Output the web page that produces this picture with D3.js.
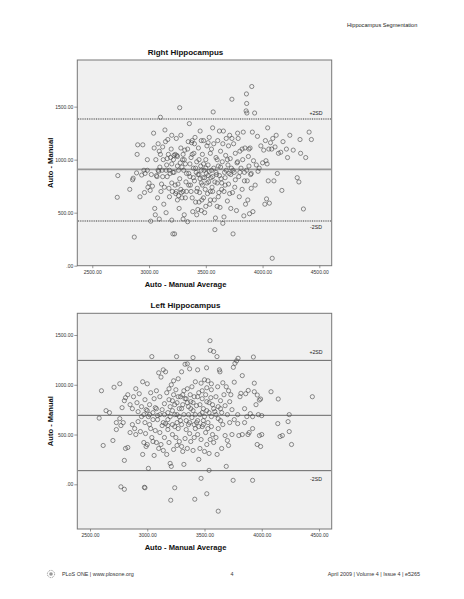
<!DOCTYPE html>
<html><head><meta charset="utf-8">
<script src="https://cdn.jsdelivr.net/npm/d3@7"></script>
<style>
html,body{margin:0;padding:0;background:#fff;}
svg text{font-family:"Liberation Sans",Arial,sans-serif;}
</style></head>
<body><svg id="c" width="464" height="599"></svg>
<script>
// ---------------- DATA ----------------
const chartTitles = ["Right Hippocampus", "Left Hippocampus"];
const xTicks = [2500, 3000, 3500, 4000, 4500];
const yTicksRight = [0, 500, 1000, 1500];
const yTicksLeft = [0, 500, 1000, 1500];
// mean, +2SD, -2SD
const limitsRight = [909, 1384, 422];
const limitsLeft = [693, 1245, 137];
const limitLabels = ["+2SD", "-2SD"];

// Right hippocampus: [average, difference]
const rightPoints = [
[2725,850],[2720,645],[2830,720],[2855,810],[2860,825],[2870,270],[2890,875],[2895,1050],[2900,1140],[2920,650],
[2935,855],[2945,1140],[2955,900],[2960,690],[2965,870],[2985,1000],[2990,740],[2985,900],[3000,780],[3010,710],
[3015,420],[3020,860],[3030,750],[3040,1250],[3045,1110],[3050,540],[3055,480],[3060,1000],[3070,840],[3065,850],
[3075,640],[3080,1150],[3085,890],[3090,1080],[3090,440],[3095,930],[3100,1400],[3100,1050],[3105,700],[3110,770],
[3115,900],[3120,1120],[3125,1000],[3130,580],[3135,740],[3140,1280],[3145,1170],[3150,500],[3150,900],[3155,950],
[3160,1010],[3165,1190],[3170,1050],[3175,730],[3180,650],[3185,870],[3195,1100],[3200,1230],[3200,430],[3205,700],
[3210,300],[3225,300],[3215,1000],[3220,880],[3230,1050],[3235,680],[3240,1200],[3245,1040],[3250,940],[3255,770],
[3260,660],[3265,540],[3270,1490],[3275,970],[3280,720],[3285,690],[3290,640],[3295,1000],[3300,440],[3305,900],
[3310,480],[3315,1090],[3320,960],[3325,790],[3330,700],[3340,415],[3345,1170],[3350,870],[3355,1340],[3360,840],
[3365,760],[3370,1020],[3375,1160],[3380,640],[3385,510],[3390,920],[3395,1060],[3400,800],[3405,1210],[3410,600],
[3415,880],[3420,980],[3425,730],[3430,530],[3435,1110],[3440,860],[3445,690],[3450,1270],[3455,940],[3460,780],
[3465,620],[3470,1050],[3475,830],[3480,1180],[3485,900],[3490,500],[3495,720],[3500,1000],[3505,870],[3510,1130],
[3515,680],[3520,950],[3525,790],[3530,1210],[3535,580],[3540,1060],[3545,830],[3550,900],[3555,740],[3560,1300],
[3565,1450],[3570,1150],[3575,620],[3580,340],[3585,450],[3590,1020],[3595,860],[3600,780],[3605,1180],[3610,940],
[3615,690],[3620,1270],[3625,550],[3630,1080],[3635,820],[3640,720],[3645,980],[3650,400],[3655,1270],[3660,460],
[3665,880],[3670,760],[3675,1040],[3680,1200],[3690,610],[3695,950],[3700,1130],[3705,870],[3710,1230],[3715,1010],
[3720,540],[3725,920],[3730,1570],[3735,690],[3740,300],[3745,1150],[3750,880],[3755,740],[3760,1060],[3770,520],
[3775,970],[3780,1250],[3785,1200],[3790,840],[3795,650],[3800,1080],[3810,920],[3820,720],[3825,1000],[3830,1260],
[3835,470],[3840,880],[3845,1110],[3850,580],[3855,1460],[3858,1620],[3860,1530],[3862,1440],[3865,800],[3870,620],
[3875,1030],[3880,940],[3885,490],[3890,1110],[3895,860],[3905,1690],[3900,730],[3910,1260],[3915,510],[3920,990],
[3930,1440],[3935,760],[3945,950],[3955,1220],[3960,890],[3970,920],[3985,1130],[4000,970],[4010,1090],[4020,580],
[4025,1180],[4030,990],[4035,630],[4040,960],[4045,1300],[4050,800],[4055,1100],[4060,590],[4070,1160],[4080,1100],
[4085,70],[4090,1200],[4100,800],[4110,1120],[4120,1230],[4130,870],[4140,1060],[4160,1070],[4170,710],[4180,1170],
[4210,1100],[4220,1020],[4240,1230],[4270,1090],[4305,830],[4320,790],[4330,1190],[4335,1060],[4360,535],[4380,1020],
[4410,1260],[4430,1190],
[3180,900],[3190,1020],[3200,960],[3210,880],[3220,1040],[3230,760],[3240,700],[3250,1030],[3260,900],[3270,820],
[3280,1110],[3290,930],[3300,700],[3310,1000],[3320,640],[3330,870],[3340,1100],[3350,760],[3360,960],[3370,700],
[3380,1050],[3390,830],[3400,1150],[3410,920],[3420,700],[3430,860],[3440,1000],[3450,820],[3460,900],[3470,760],
[3480,960],[3490,830],[3500,920],[3510,780],[3520,850],[3530,890],[3540,700],[3550,1100],[3560,840],[3570,920],
[3580,790],[3590,880],[3600,1000],[3610,650],[3620,850],[3630,930],[3640,780],[3650,1150],[3660,700],[3670,830],
[3680,900],[3690,1000],[3700,770],[3710,680],[3720,860],[3730,1200],[3740,900],[3760,810],[3780,980],[3800,880],
[3820,1100],[3840,800],[3860,900],[3880,1100],[3900,870],[3520,1160],[3460,1180],[3380,1180],[3300,1050],[3280,1230],
[3250,620],[3200,780],[3160,840],[3120,840],[3080,900],[3440,600],[3480,640],[3540,620],[3600,560],[3560,700],
[3500,560],[3420,480],[3460,520]
];

// Left hippocampus: [average, difference]
const leftPoints = [
[2770,-25],[2800,-50],[2975,-30],[2980,-35],[3205,-160],[3240,-35],[3415,-150],[3470,60],[3520,-95],[3620,-270],
[3750,40],[3920,40],[3540,140],
[2580,665],[2615,390],[2700,440],[2730,550],[2770,590],[2790,620],[2800,240],[2810,360],[2830,370],[2850,520],
[2870,600],[2890,560],[2900,500],[2920,630],[2940,530],[2960,300],[2970,420],[2985,510],[2990,380],[3000,400],
[3010,160],[3020,600],[3030,560],[3040,470],[3050,430],[3060,290],[3070,540],[3080,420],[3090,650],[3100,360],
[3110,520],[3120,400],[3130,590],[3140,340],[3150,470],[3160,610],[3170,300],[3180,550],[3190,420],[3200,210],
[3210,180],[3220,500],[3230,350],[3240,580],[3250,470],[3260,390],[3270,560],[3280,430],[3290,640],[3300,380],
[3310,330],[3320,200],[3330,460],[3340,550],[3350,360],[3360,600],[3370,510],[3380,430],[3390,670],[3400,340],
[3410,470],[3420,560],[3430,620],[3440,500],[3450,250],[3460,360],[3470,450],[3480,580],[3490,640],[3500,330],
[3510,520],[3520,400],[3530,620],[3540,310],[3550,450],[3560,580],[3570,500],[3580,420],[3600,470],[3610,300],
[3620,560],[3640,640],[3650,360],[3660,600],[3680,490],[3690,180],[3700,440],[3710,390],[3720,620],[3740,500],
[3760,650],[3790,610],[3800,490],[3830,500],[3850,620],[3880,500],[3890,520],[3920,560],[3960,400],[3980,490],
[3990,380],[4000,500],[4140,610],[4160,480],[4180,490],[4230,630],[4240,530],[4260,400],
[2600,940],[2710,975],[2760,1010],[2640,740],[2670,720],[2730,620],[2760,660],[2780,770],[2800,840],[2810,870],
[2830,900],[2850,800],[2870,760],[2880,880],[2900,960],[2910,820],[2920,730],[2930,910],[2950,780],[2960,1030],
[2970,700],[2980,850],[2990,750],[3000,1010],[3010,680],[3020,800],[3030,920],[3040,1283],[3050,720],[3060,860],
[3070,770],[3080,940],[3090,690],[3100,1120],[3110,880],[3120,1077],[3130,750],[3140,1150],[3150,810],[3160,1130],
[3170,920],[3180,720],[3190,850],[3200,780],[3210,1000],[3220,840],[3230,1040],[3240,700],[3250,950],[3256,1283],
[3260,820],[3270,1060],[3280,760],[3290,880],[3300,1130],[3310,800],[3320,940],[3330,1206],[3340,860],[3350,1210],
[3360,780],[3370,1160],[3375,900],[3380,830],[3390,980],[3400,1273],[3400,740],[3410,880],[3420,1030],[3430,790],
[3440,1150],[3450,920],[3460,700],[3470,1016],[3480,860],[3490,760],[3500,1050],[3510,900],[3518,1170],[3520,830],
[3530,1040],[3540,720],[3548,1443],[3550,1346],[3555,870],[3560,950],[3570,800],[3580,1333],[3590,730],[3600,880],
[3609,1283],[3615,980],[3620,780],[3630,1150],[3635,1130],[3640,840],[3650,720],[3660,1020],[3670,900],[3680,790],
[3690,980],[3700,700],[3710,940],[3720,830],[3730,900],[3740,750],[3752,1175],[3766,1215],[3780,1240],[3793,1266],
[3760,1026],[3790,700],[3810,880],[3818,914],[3830,1092],[3850,760],[3870,680],[3882,943],[3900,710],[3927,1279],
[3935,1016],[3935,930],[3950,800],[3961,897],[3979,847],[3990,857],[3970,700],[4000,690],[4081,930],[4144,857],
[4240,700],[4442,880],[3920,680],[3860,910],
[3150,700],[3180,650],[3200,680],[3220,740],[3240,800],[3260,700],[3280,680],[3300,760],[3320,700],[3340,640],
[3350,820],[3360,700],[3380,760],[3400,820],[3420,700],[3440,640],[3460,800],[3480,720],[3500,680],[3520,740],
[3540,820],[3560,680],[3580,760],[3600,700],[3620,660],[3640,760],[3300,600],[3260,620],[3220,600],[3180,590],
[3140,620],[3110,700],[3080,760],[3050,650],[3020,700],[3000,740],[2980,620],[2950,680],[3330,860],[3370,620],
[3410,600],[3450,580],[3490,600],[3530,560],[3350,960],[3310,900],[3270,880],[3230,900],[3190,960],[3440,880],
[3480,940],[3520,970],[3560,1010]
];

const headerText = "Hippocampus Segmentation";
const footerLeft = "PLoS ONE | www.plosone.org";
const footerMid = "4";
const footerRight = "April 2009 | Volume 4 | Issue 4 | e5265";
const xAxisTitle = "Auto - Manual Average";
const yAxisTitle = "Auto - Manual";

// ---------------- DRAW ----------------
const svg = d3.select("#c");
svg.append("rect").attr("width",464).attr("height",599).attr("fill","#fff");

svg.append("text").attr("x",347).attr("y",27).attr("font-size",5.6).attr("fill","#222").text(headerText);

const fmt = v => v === 0 ? ".00" : d3.format(".2f")(v);

function drawChart(cfg){
  const g = svg.append("g");
  const x = d3.scaleLinear().domain(cfg.xDomain).range([77.3, 331.7]);
  const y = d3.scaleLinear().domain(cfg.yDomain).range([cfg.bottom, cfg.top]);
  // title
  g.append("text").attr("x",185.5).attr("y",cfg.top-5).attr("text-anchor","middle")
    .attr("font-size",8).attr("font-weight","bold").attr("fill","#111").text(cfg.title);
  // background
  g.append("rect").attr("x",77.3).attr("y",cfg.top).attr("width",254.4).attr("height",cfg.bottom-cfg.top)
    .attr("fill","#f0f0f0").attr("stroke","#777").attr("stroke-width",1);
  // limit lines
  const [mean, up, lo] = cfg.limits;
  g.append("line").attr("x1",78).attr("x2",331).attr("y1",y(mean)).attr("y2",y(mean))
    .attr("stroke",cfg.meanColor).attr("stroke-width",cfg.meanWidth);
  [up, lo].forEach(v=>{
    g.append("line").attr("x1",78).attr("x2",331).attr("y1",y(v)).attr("y2",y(v))
      .attr("stroke",cfg.sdColor).attr("stroke-width",cfg.sdWidth)
      .attr("stroke-dasharray",cfg.sdDash);
  });
  g.append("text").attr("x",316).attr("y",y(up)-cfg.labOff+2).attr("text-anchor","middle").attr("font-size",5.2).attr("fill","#222").text(limitLabels[0]);
  g.append("text").attr("x",316).attr("y",y(lo)+cfg.labOff+2).attr("text-anchor","middle").attr("font-size",5.2).attr("fill","#222").text(limitLabels[1]);
  // points
  g.append("g").selectAll("circle").data(cfg.points).join("circle")
    .attr("cx",d=>x(d[0])).attr("cy",d=>y(d[1])).attr("r",2.1)
    .attr("fill","none").attr("stroke","#444").attr("stroke-width",0.6);
  // y axis
  const ya = g.append("g").attr("transform","translate(77.3,0)")
    .call(d3.axisLeft(y).tickValues(cfg.yTicks).tickFormat(fmt).tickSize(3).tickPadding(1));
  ya.select(".domain").remove();
  ya.selectAll("line").attr("stroke","#555").attr("stroke-width",0.6);
  ya.selectAll("text").attr("font-size",5).attr("fill","#333").attr("font-family","Liberation Sans, Arial, sans-serif");
  // x axis
  const xa = g.append("g").attr("transform",`translate(0,${cfg.bottom})`)
    .call(d3.axisBottom(x).tickValues(xTicks).tickFormat(fmt).tickSize(2.5).tickPadding(2));
  xa.select(".domain").remove();
  xa.selectAll("line").attr("stroke","#555").attr("stroke-width",0.6);
  xa.selectAll("text").attr("font-size",5).attr("fill","#333").attr("font-family","Liberation Sans, Arial, sans-serif");
  // axis titles
  g.append("text").attr("x",185.5).attr("y",cfg.bottom+21).attr("text-anchor","middle")
    .attr("font-size",7.6).attr("font-weight","bold").attr("fill","#111").text(xAxisTitle);
  g.append("text").attr("transform",`translate(52.5,${(cfg.top+cfg.bottom)/2}) rotate(-90)`).attr("text-anchor","middle")
    .attr("font-size",7.6).attr("font-weight","bold").attr("fill","#111").text(yAxisTitle);
}

drawChart({title:chartTitles[0], xDomain:[2368,4609], yDomain:[0,1940], top:60, bottom:265.7,
  limits:limitsRight, points:rightPoints, yTicks:yTicksRight,
  meanColor:"#999", meanWidth:1.8, sdColor:"#777", sdWidth:1.6, sdDash:"1,0.8", labOff:6});
drawChart({title:chartTitles[1], xDomain:[2389,4611], yDomain:[-449,1718], top:313.3, bottom:529,
  limits:limitsLeft, points:leftPoints, yTicks:yTicksLeft,
  meanColor:"#666", meanWidth:1, sdColor:"#666", sdWidth:1, sdDash:null, labOff:8});

// footer
const logo = svg.append("g").attr("transform","translate(51,574)");
logo.append("circle").attr("r",3.6).attr("fill","none").attr("stroke","#777").attr("stroke-width",0.8).attr("stroke-dasharray","1,0.8");
logo.append("circle").attr("r",1.8).attr("fill","#999");
svg.append("text").attr("x",62).attr("y",576).attr("font-size",5.4).attr("fill","#333").text(footerLeft);
svg.append("text").attr("x",232).attr("y",576).attr("text-anchor","middle").attr("font-size",5.4).attr("fill","#333").text(footerMid);
svg.append("text").attr("x",420).attr("y",576).attr("text-anchor","end").attr("font-size",5.4).attr("fill","#333").text(footerRight);
</script></body></html>
